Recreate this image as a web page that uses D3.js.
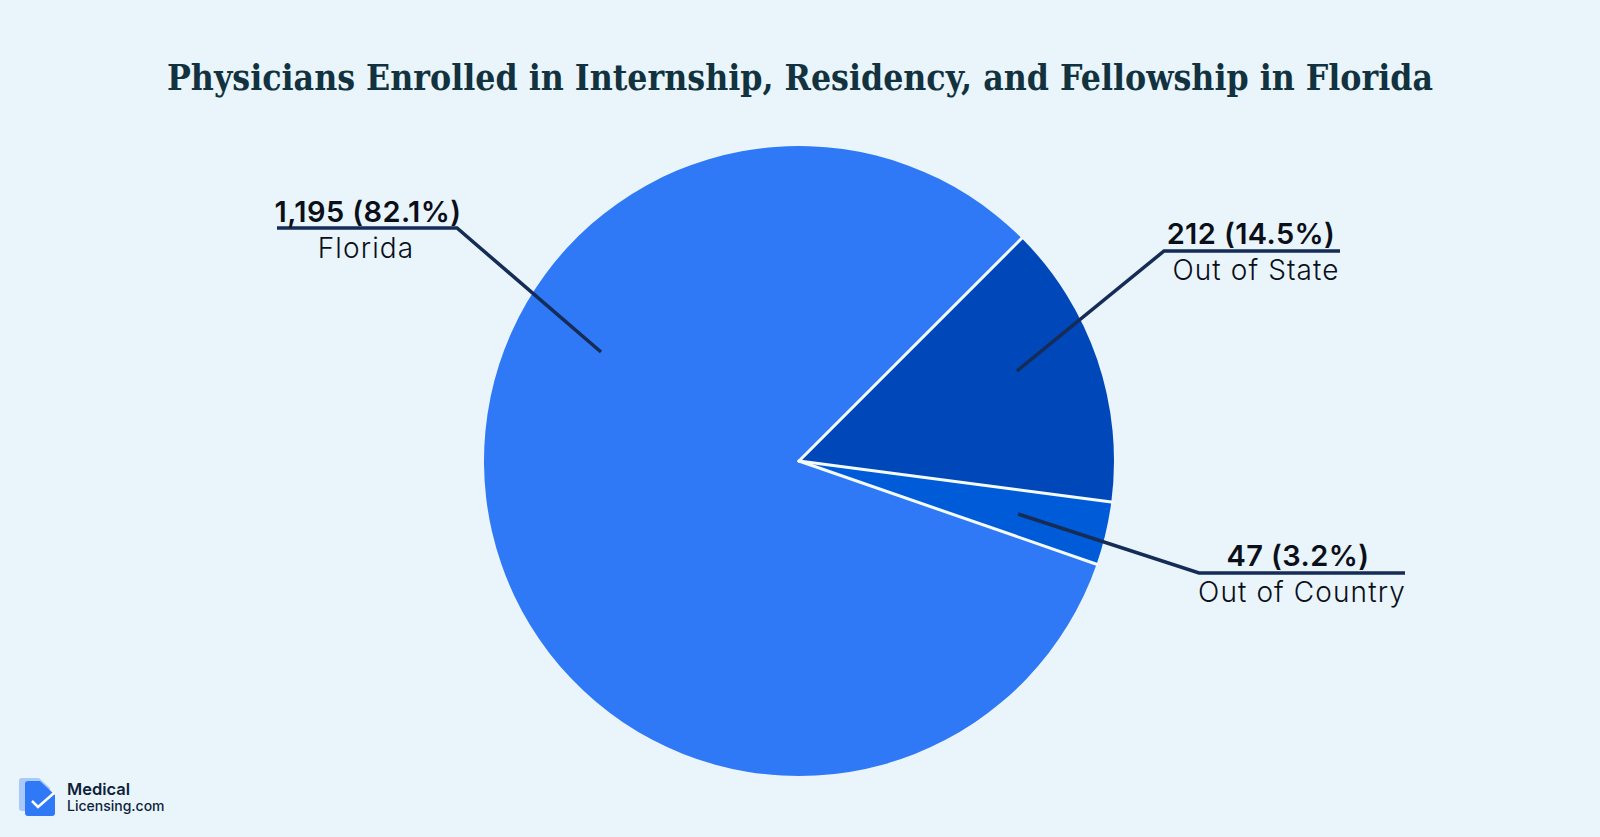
<!DOCTYPE html>
<html>
<head>
<meta charset="utf-8">
<script src="https://cdn.jsdelivr.net/npm/d3@7"></script>
<style>
  html, body { margin: 0; padding: 0; background: #e9f5fa; overflow: hidden; }
  svg { display: block; }
</style>
</head>
<body>
<script>
// Data
const categories = ["Out of State", "Out of Country", "Florida"];
const counts = [212, 47, 1195];
const valueLabels = ["212 (14.5%)", "47 (3.2%)", "1,195 (82.1%)"];
const sliceColors = ["#0047ba", "#005bd8", "#2f78f6"];

// Width and height
const w = 1600;
const h = 837;
const cx = 799;
const cy = 461;
const radius = 315;

// Leader lines: [inside slice, elbow, end of underline]
const leaders = [
  [[1017, 371], [1164, 251], [1340, 251]],
  [[1018, 514], [1199, 573], [1405, 573]],
  [[601, 352], [457, 228], [277, 228]],
];
const valueTextX = [1251, 1298, 368];
const valueTextY = [244, 566, 222];
const nameTextX = [1256, 1302, 366];
const nameTextY = [280, 602, 258];

const svg = d3.select("body").append("svg").attr("width", w).attr("height", h);

svg.append("rect").attr("width", w).attr("height", h).attr("fill", "#e9f5fa");

// Title
svg.append("text")
  .text("Physicians Enrolled in Internship, Residency, and Fellowship in Florida")
  .attr("x", 800)
  .attr("y", 90)
  .attr("text-anchor", "middle")
  .attr("font-family", "'DejaVu Serif', serif")
  .attr("font-weight", 700)
  .attr("font-size", "35px")
  .attr("textLength", 1266)
  .attr("lengthAdjust", "spacingAndGlyphs")
  .attr("fill", "#123240");

// Pie
const pie = d3.pie()
  .sort(null)
  .startAngle(Math.PI / 4)
  .endAngle(Math.PI / 4 + 2 * Math.PI);
const arc = d3.arc().innerRadius(0).outerRadius(radius);
const slices = pie(counts);

const pieGroup = svg.append("g")
  .attr("transform", "translate(" + cx + "," + cy + ")");

pieGroup.selectAll("path")
  .data(slices)
  .enter()
  .append("path")
  .attr("d", arc)
  .attr("fill", (d, i) => sliceColors[i]);

// White separators between slices, drawn only along the radii
pieGroup.selectAll("line")
  .data(slices)
  .enter()
  .append("line")
  .attr("x1", 0)
  .attr("y1", 0)
  .attr("x2", (d) => radius * Math.sin(d.startAngle))
  .attr("y2", (d) => -radius * Math.cos(d.startAngle))
  .attr("stroke", "#f4fbfd")
  .attr("stroke-width", 3)
  .attr("stroke-linecap", "round");

// Leader lines
const line = d3.line();
svg.append("g")
  .selectAll("path")
  .data(leaders)
  .enter()
  .append("path")
  .attr("d", line)
  .attr("fill", "none")
  .attr("stroke", "#152c57")
  .attr("stroke-width", 3.5);

// Labels
svg.append("g")
  .selectAll("text")
  .data(valueLabels)
  .enter()
  .append("text")
  .text((d) => d)
  .attr("x", (d, i) => valueTextX[i])
  .attr("y", (d, i) => valueTextY[i])
  .attr("text-anchor", "middle")
  .attr("font-family", "Inter, sans-serif")
  .attr("font-weight", 600)
  .attr("font-size", "29px")
  .attr("letter-spacing", "0.4px")
  .attr("fill", "#0b0f1a");

svg.append("g")
  .selectAll("text")
  .data(categories)
  .enter()
  .append("text")
  .text((d) => d)
  .attr("x", (d, i) => nameTextX[i])
  .attr("y", (d, i) => nameTextY[i])
  .attr("text-anchor", "middle")
  .attr("font-family", "Inter, sans-serif")
  .attr("font-weight", 300)
  .attr("font-size", "28px")
  .attr("letter-spacing", "1.1px")
  .attr("fill", "#0b0f1a");

// Logo
const logo = svg.append("g");
logo.append("path")
  .attr("d", "M22 778H39L50 788V808a3 3 0 0 1 -3 3H22a3 3 0 0 1 -3 -3V781a3 3 0 0 1 3 -3Z")
  .attr("fill", "#a9c8fb");
logo.append("path")
  .attr("d", "M28 781H40L55 795V813a3 3 0 0 1 -3 3H28a3 3 0 0 1 -3 -3V784a3 3 0 0 1 3 -3Z")
  .attr("fill", "#2f78f6");
logo.append("path")
  .attr("d", "M32 801L38 807L54 793")
  .attr("fill", "none")
  .attr("stroke", "#ffffff")
  .attr("stroke-width", 2.5);
logo.append("text")
  .text("Medical")
  .attr("x", 67)
  .attr("y", 795)
  .attr("font-family", "Inter, sans-serif")
  .attr("font-weight", 600)
  .attr("font-size", "16.5px")
  .attr("fill", "#101f3c");
logo.append("text")
  .text("Licensing.com")
  .attr("x", 67)
  .attr("y", 811)
  .attr("font-family", "Inter, sans-serif")
  .attr("font-weight", 500)
  .attr("font-size", "14px")
  .attr("fill", "#101f3c");
</script>
</body>
</html>
